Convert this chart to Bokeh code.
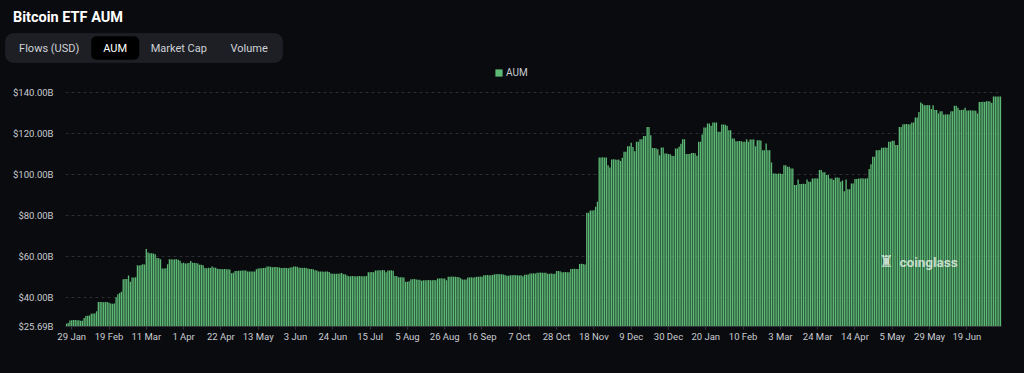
import pandas as pd
from bokeh.plotting import figure
from bokeh.layouts import column, row
from bokeh.models import (Range1d, FixedTicker, CustomJSTickFormatter, Legend, LegendItem,
                          BoxAnnotation, Label, ColumnDataSource)
from bokeh.core.properties import value
from bokeh.embed import file_html
from bokeh.resources import INLINE

# ---------------- data ----------------
title_text = "Bitcoin ETF AUM"
tabs = ["Flows (USD)", "AUM", "Market Cap", "Volume"]
selected_tab = "AUM"
series_name = "AUM"

start_date = "2024-01-26"
end_date = "2025-07-08"
missing_days = ["2025-05-24", "2025-05-25", "2025-05-26"]

# AUM in billions USD, one value per day
aum = [
    27.0, 27.4, 28.6, 28.8, 28.9, 28.9, 28.8, 28.8, 28.5, 28.5,          # 0
    29.8, 30.8, 31.0, 31.1, 31.9, 32.0, 32.0, 33.2, 37.6, 37.7,          # 10
    37.6, 37.5, 37.6, 37.6, 37.3, 36.9, 36.8, 36.9, 40.0, 41.5,          # 20
    42.0, 42.7, 48.8, 48.9, 48.9, 50.6, 47.6, 49.6, 49.6, 49.7,          # 30
    55.6, 55.5, 55.7, 56.1, 56.0, 63.6, 61.8, 61.5, 61.5, 61.4,          # 40
    61.0, 59.2, 59.0, 58.5, 54.0, 54.0, 54.1, 56.1, 58.5, 58.6,          # 50
    58.4, 58.5, 58.6, 58.3, 57.8, 56.6, 56.8, 56.5, 56.6, 56.7,          # 60
    57.7, 56.8, 56.7, 56.7, 56.5, 55.8, 55.8, 55.6, 54.3, 54.2,          # 70
    54.4, 54.3, 55.0, 54.5, 54.4, 53.9, 53.8, 53.8, 53.7, 53.8,          # 80
    53.6, 53.7, 53.5, 51.7, 51.9, 52.8, 52.8, 52.9, 52.9, 53.1,          # 90
    53.1, 53.0, 52.5, 52.5, 52.6, 52.5, 52.6, 53.6, 54.0, 54.1,          # 100
    54.2, 54.3, 54.4, 55.0, 55.0, 54.9, 54.6, 54.7, 54.7, 54.6,          # 110
    54.5, 54.3, 54.3, 54.4, 54.3, 54.2, 54.5, 54.6, 55.0, 55.0,          # 120
    54.9, 54.4, 54.4, 54.3, 54.4, 54.3, 54.0, 53.8, 53.8, 53.7,          # 130
    53.2, 53.1, 52.6, 52.5, 52.5, 52.4, 52.5, 52.5, 52.3, 51.6,          # 140
    51.5, 51.5, 51.4, 51.5, 51.6, 51.8, 51.2, 51.2, 50.6, 50.2,          # 150
    50.2, 50.3, 50.2, 50.2, 50.2, 50.3, 50.2, 50.2, 50.2, 50.3,          # 160
    52.2, 52.2, 52.3, 52.2, 53.1, 53.1, 53.2, 53.1, 53.3, 53.2,          # 170
    52.2, 53.1, 53.1, 53.2, 52.9, 50.4, 50.3, 49.8, 49.7, 49.7,          # 180
    49.6, 47.6, 47.5, 47.8, 48.8, 48.8, 48.9, 48.6, 48.5, 48.5,          # 190
    48.0, 48.3, 48.3, 48.3, 48.4, 48.3, 48.3, 48.4, 48.3, 49.2,          # 200
    49.2, 49.3, 49.2, 49.1, 48.3, 50.0, 50.0, 50.1, 50.0, 50.0,          # 210
    49.9, 49.7, 49.3, 48.6, 48.6, 48.7, 49.6, 49.6, 49.7, 49.6,          # 220
    49.8, 50.0, 50.0, 50.1, 50.0, 50.7, 50.7, 50.8, 50.7, 50.7,          # 230
    50.9, 51.2, 51.2, 51.3, 51.2, 51.2, 51.1, 50.8, 50.5, 50.5,          # 240
    50.7, 50.7, 50.8, 50.7, 50.7, 50.6, 50.7, 50.2, 51.0, 51.0,          # 250
    51.1, 51.6, 51.6, 51.7, 51.6, 52.0, 52.0, 52.1, 52.0, 52.0,          # 260
    51.9, 51.5, 51.5, 51.6, 51.5, 51.5, 52.8, 52.8, 52.7, 52.2,          # 270
    52.2, 52.3, 52.2, 52.2, 53.8, 53.8, 53.9, 53.8, 53.8, 56.2,          # 280
    56.3, 56.2, 56.0, 81.2, 81.3, 82.4, 82.4, 82.5, 84.2, 86.6,          # 290
    108.3, 108.3, 108.4, 108.2, 108.3, 104.5, 103.4, 107.3, 107.4, 107.3,  # 300
    107.2, 107.3, 106.5, 108.1, 111.0, 111.0, 113.8, 113.8, 115.4, 113.4,  # 310
    111.3, 115.9, 115.9, 117.2, 117.2, 118.8, 118.8, 123.2, 123.2, 119.1,  # 320
    112.9, 112.9, 112.8, 112.3, 109.4, 113.1, 113.1, 110.2, 110.2, 110.0,  # 330
    109.8, 109.1, 109.0, 112.6, 112.6, 113.5, 115.0, 117.2, 117.2, 109.9,  # 340
    109.9, 110.0, 110.4, 110.4, 110.3, 109.1, 115.9, 115.9, 119.5, 122.9,  # 350
    122.9, 124.8, 124.8, 123.7, 125.4, 125.4, 125.3, 120.8, 120.8, 124.4,  # 360
    124.4, 124.3, 123.7, 121.6, 121.6, 117.5, 117.5, 116.2, 116.2, 116.3,  # 370
    116.2, 115.9, 115.9, 117.2, 115.9, 117.1, 117.1, 117.0, 113.8, 116.7,  # 380
    116.7, 116.6, 111.8, 111.8, 115.1, 111.8, 111.8, 105.8, 100.4, 100.4,  # 390
    100.3, 100.4, 100.4, 100.2, 104.5, 104.5, 103.7, 103.7, 102.9, 102.9,  # 400
    94.8, 94.8, 97.5, 95.3, 95.3, 95.4, 95.3, 97.5, 96.4, 96.4,            # 410
    98.0, 98.0, 98.1, 98.0, 102.1, 102.1, 101.0, 101.0, 99.7, 99.7,        # 420
    98.0, 98.0, 97.2, 98.5, 98.5, 98.4, 96.4, 97.0, 91.8, 97.5,            # 430
    92.8, 92.8, 95.6, 95.6, 97.7, 97.7, 98.0, 98.0, 98.1, 98.0,            # 440
    98.0, 98.1, 102.6, 105.0, 108.6, 108.6, 111.8, 111.8, 111.9, 113.0,    # 450
    113.0, 113.1, 113.0, 115.9, 115.9, 116.4, 116.4, 114.3, 114.3, 123.2,  # 460
    123.2, 124.5, 124.5, 124.6, 124.5, 124.5, 125.4, 125.4, 127.8, 127.8,  # 470
    130.5, 135.1, 134.5, 133.8, 133.8, 133.9, 133.8, 131.9, 133.8, 131.4,  # 480
    131.4, 129.7, 130.9, 130.9, 129.3, 129.3, 129.4, 129.3, 130.9, 130.9,  # 490
    133.5, 133.5, 132.5, 131.5, 131.5, 131.6, 132.5, 131.2, 131.2, 131.3,  # 500
    131.2, 131.2, 131.1, 129.7, 135.4, 135.4, 135.5, 135.4, 135.7, 135.7,  # 510
    135.6, 134.9, 138.0, 138.0, 138.1, 138.0, 138.0,                      # 520
]

y_min = 25.69
y_ticks = [25.69, 40, 60, 80, 100, 120, 140]
tick_labels = ["29 Jan", "19 Feb", "11 Mar", "1 Apr", "22 Apr", "13 May", "3 Jun",
               "24 Jun", "15 Jul", "5 Aug", "26 Aug", "16 Sep", "7 Oct", "28 Oct",
               "18 Nov", "9 Dec", "30 Dec", "20 Jan", "10 Feb", "3 Mar", "24 Mar",
               "14 Apr", "5 May", "29 May", "19 Jun"]
first_tick = 3
tick_step = 21

# ---------------- styling ----------------
BG = "#0a0b0f"
GREEN = "#5dba76"
TXT = "#c9ccd1"
GRID = "#2a2d34"
FONT = "Roboto"
W = 1024
HH = 66                      # header height
H = 306                      # chart height
ML, MR, MB = 65, 23, 46      # chart frame borders (px)

dates = [d for d in pd.date_range(start_date, end_date, freq="D")
         if d.strftime("%Y-%m-%d") not in missing_days]
n = len(aum)
src = ColumnDataSource(dict(idx=list(range(n)), aum=aum,
                            date=[d.strftime("%Y-%m-%d") for d in dates[:n]]))

# ---------------- header (title + tab bar); data units = page pixels ----------------
hdr = figure(width=W, height=HH, x_range=Range1d(0, W), y_range=Range1d(HH, 0),
             output_backend="svg", toolbar_location=None, min_border=0,
             min_border_left=0, min_border_right=0, min_border_top=0, min_border_bottom=0,
             x_axis_location=None, y_axis_location=None)
hdr.grid.visible = False
hdr.background_fill_color = BG
hdr.border_fill_color = BG
hdr.outline_line_color = None

hdr.add_layout(BoxAnnotation(left=5, right=282, top=33, bottom=62, level="underlay",
                             fill_color="#1d1f24", fill_alpha=1.0,
                             line_color="#2f323a", line_width=1, border_radius=8))
hdr.add_layout(BoxAnnotation(left=90.7, right=138.7, top=35.7, bottom=59.3, level="underlay",
                             fill_color="#000000", fill_alpha=1.0,
                             line_color=None, border_radius=5))
hdr.text(x=[12.5], y=[16.5], text=[title_text], text_color="#ffffff",
         text_font=value(FONT), text_font_size="14.5px", text_font_style="bold",
         text_align="left", text_baseline="middle")
tab_x = [48.7, 114.7, 178.3, 248.7]
tab_colors = ["#ffffff" if t == selected_tab else "#cfd2d8" for t in tabs]
hdr.text(x=tab_x, y=[47.7] * len(tabs), text=tabs, text_color=tab_colors,
         text_font=value(FONT), text_font_size="11px",
         text_align="center", text_baseline="middle")

# ---------------- main chart ----------------
frame_h = H - MB
px_per_b = 2.047
y_top = y_min + frame_h / px_per_b

p = figure(width=W, height=H, x_range=Range1d(-0.5, n - 0.5),
           y_range=Range1d(y_min, y_top), output_backend="svg",
           toolbar_location=None, min_border_left=ML, min_border_right=MR,
           min_border_top=0, min_border_bottom=MB)
p.background_fill_color = BG
p.border_fill_color = BG
p.outline_line_color = None

r = p.vbar(x="idx", top="aum", bottom=0, width=0.75, source=src,
           fill_color=GREEN, line_color=None)

p.xgrid.visible = False
p.ygrid.ticker = FixedTicker(ticks=y_ticks[1:])
p.ygrid.grid_line_color = GRID
p.ygrid.grid_line_dash = "3 3"
p.ygrid.grid_line_width = 1

p.yaxis.ticker = FixedTicker(ticks=y_ticks)
p.yaxis.formatter = CustomJSTickFormatter(code="return '$' + tick.toFixed(2) + 'B';")
p.yaxis.axis_line_color = None
p.yaxis.major_tick_line_color = None
p.yaxis.minor_tick_line_color = None
p.yaxis.major_label_text_font = FONT
p.yaxis.major_label_text_font_size = "9.5px"
p.yaxis.major_label_text_color = TXT
p.yaxis.major_label_standoff = 6

tick_pos = [first_tick + tick_step * k for k in range(len(tick_labels))]
p.xaxis.ticker = FixedTicker(ticks=tick_pos)
p.xaxis.major_label_overrides = {t: lab for t, lab in zip(tick_pos, tick_labels)}
p.xaxis.axis_line_color = "#33363d"
p.xaxis.major_tick_line_color = "#33363d"
p.xaxis.major_tick_out = 3
p.xaxis.major_tick_in = 0
p.xaxis.minor_tick_line_color = None
p.xaxis.major_label_text_font = FONT
p.xaxis.major_label_text_font_size = "9.5px"
p.xaxis.major_label_text_color = TXT
p.xaxis.major_label_standoff = 1

legend = Legend(items=[LegendItem(label=series_name, renderers=[r])],
                location=(429, 248.5), orientation="horizontal",
                background_fill_alpha=0, border_line_color=None,
                glyph_width=9, glyph_height=9, label_height=10,
                label_text_font=FONT, label_text_font_size="10px",
                label_text_color=TXT, padding=0, margin=0, label_standoff=3)
p.add_layout(legend)

# watermark (screen px inside the frame)
def sx(px):
    return px - ML


def sy(py):
    return (HH + H - MB) - py


p.add_layout(Label(x=sx(886), y=sy(261), x_units="screen", y_units="screen",
                   text="♜", text_font="DejaVu Sans", text_font_size="16px",
                   text_color="#ffffff", text_alpha=0.7,
                   text_align="center", text_baseline="middle"))
p.add_layout(Label(x=sx(899), y=sy(261), x_units="screen", y_units="screen",
                   text="coinglass", text_font=FONT, text_font_size="13.5px",
                   text_font_style="bold", text_color="#ffffff", text_alpha=0.7,
                   text_baseline="middle"))

try:
    hdr.frame_align = False
    p.frame_align = False
    layout = column(hdr, p, spacing=0)
except AttributeError:
    layout = column(row(hdr), p, spacing=0)

html = file_html(layout, INLINE, title="Bitcoin ETF AUM")
html = html.replace("</head>", "<style>html,body{background:%s;}</style></head>" % BG, 1)
open("out.html", "w").write(html)
